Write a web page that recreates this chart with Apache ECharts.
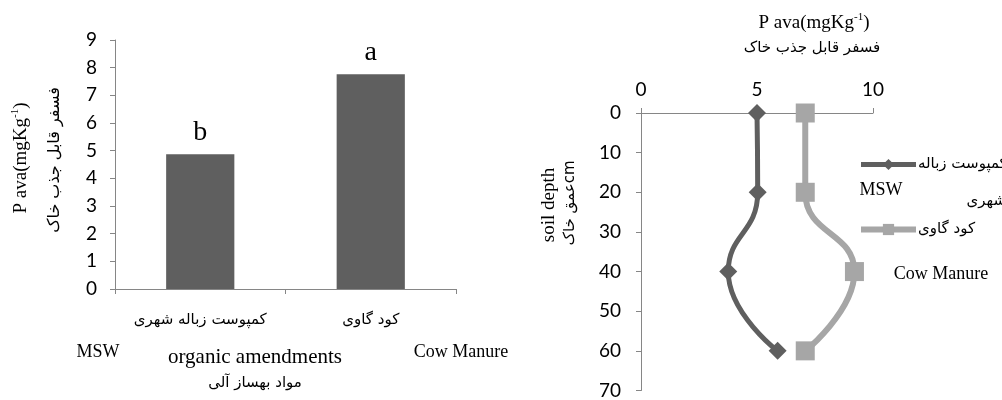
<!DOCTYPE html>
<html><head><meta charset="utf-8">
<script src="https://cdn.jsdelivr.net/npm/echarts@6/dist/echarts.min.js"></script>
<style>html,body{margin:0;padding:0;background:#fff}#c{width:1002px;height:400px}</style>
</head><body><div id="c"></div>
<script>
// ---- data ----
const amendments = ['کمپوست زباله شهری', 'کود گاوی'];
const pAvailable = [4.87, 7.76];
const sigLetters = ['b', 'a'];
const depths = [0, 20, 40, 60];
const mswP = [5.0, 5.03, 3.76, 5.89];
const cowP = [7.08, 7.08, 9.2, 7.08];
const seriesNames = ['کمپوست زباله', 'کود گاوی'];

const AX = '#868686';
const SANS = 'Lato';
const SERIF = 'Liberation Serif';
const FA = 'DejaVu Sans';
const MSW_C = '#5F5F5F';
const COW_C = '#A6A6A6';

const chart = echarts.init(document.getElementById('c'), null, {renderer: 'canvas'});

function txt(x, y, text, font, size, opts) {
  opts = opts || {};
  return {
    type: 'text', x: x, y: y, rotation: opts.rot || 0,
    style: Object.assign({
      text: text, fontFamily: font, fontSize: size, fill: '#000',
      align: opts.align || 'center', verticalAlign: 'middle'
    }, opts.style || {})
  };
}
function supTitle(x, y, size, rot) {
  return {
    type: 'text', x: x, y: y, rotation: rot || 0,
    style: {
      text: '{t|P ava(mgKg}{s|-1}{t|)}',
      align: 'center', verticalAlign: 'middle', fill: '#000',
      rich: {
        t: {fontFamily: SERIF, fontSize: size, lineHeight: size + 2, verticalAlign: 'bottom'},
        s: {fontFamily: SERIF, fontSize: Math.round(size * 0.6), lineHeight: size + 2, verticalAlign: 'top'}
      }
    }
  };
}

const option = {
  animation: false,
  backgroundColor: '#fff',
  grid: [
    {left: 115, top: 40, width: 341, height: 249},
    {left: 641, top: 113, width: 232, height: 281}
  ],
  xAxis: [
    {
      gridIndex: 0, type: 'category', data: amendments,
      axisLine: {show: true, lineStyle: {color: AX, width: 1}},
      axisTick: {show: true, length: 5, alignWithLabel: false, interval: 0, lineStyle: {color: AX}},
      axisLabel: {fontFamily: FA, fontSize: 15, color: '#000', margin: 24, interval: 0},
      splitLine: {show: false}
    },
    {
      gridIndex: 1, type: 'value', position: 'top', min: 0, max: 10, interval: 5,
      axisLine: {show: true, onZero: false, lineStyle: {color: AX, width: 1}},
      axisTick: {show: true, length: 5, lineStyle: {color: AX}},
      axisLabel: {fontFamily: SANS, fontSize: 19, color: '#000', margin: 14},
      splitLine: {show: false}
    }
  ],
  yAxis: [
    {
      gridIndex: 0, type: 'value', min: 0, max: 9, interval: 1,
      axisLine: {show: true, lineStyle: {color: AX, width: 1}},
      axisTick: {show: true, length: 5, lineStyle: {color: AX}},
      axisLabel: {fontFamily: SANS, fontSize: 19, color: '#000', margin: 18},
      splitLine: {show: false}
    },
    {
      gridIndex: 1, type: 'value', inverse: true, min: 0, max: 70, interval: 10,
      axisLine: {show: true, onZero: false, lineStyle: {color: AX, width: 1}},
      axisTick: {show: true, length: 5, lineStyle: {color: AX}},
      axisLabel: {fontFamily: SANS, fontSize: 19, color: '#000', margin: 20},
      splitLine: {show: false}
    }
  ],
  legend: {
    orient: 'vertical', left: 853, top: 152, itemWidth: 55, itemHeight: 14, itemGap: 50,
    data: [
      {name: seriesNames[0], lineStyle: {width: 5, color: MSW_C}},
      {name: seriesNames[1], lineStyle: {width: 6, color: COW_C}}
    ],
    textStyle: {fontFamily: FA, fontSize: 15, color: '#000', padding: [0, 0, 0, -3]}
  },
  series: [
    {
      type: 'bar', xAxisIndex: 0, yAxisIndex: 0, data: pAvailable, barWidth: '40%',
      itemStyle: {color: MSW_C},
      label: {
        show: true, position: 'top', distance: 8,
        formatter: p => sigLetters[p.dataIndex],
        fontFamily: SERIF, fontSize: 28, color: '#000'
      }
    },
    {
      name: seriesNames[0], type: 'line', xAxisIndex: 1, yAxisIndex: 1,
      data: depths.map((d, i) => [mswP[i], d]),
      smooth: 0.5, symbol: 'diamond', symbolSize: 18,
      lineStyle: {color: MSW_C, width: 5},
      itemStyle: {color: MSW_C}
    },
    {
      name: seriesNames[1], type: 'line', xAxisIndex: 1, yAxisIndex: 1,
      data: depths.map((d, i) => [cowP[i], d]),
      smooth: 0.5, symbol: 'rect', symbolSize: 19,
      lineStyle: {color: COW_C, width: 6},
      itemStyle: {color: COW_C}
    }
  ],
  graphic: [
    supTitle(20, 158, 19, Math.PI / 2),
    txt(55, 160, 'فسفر قابل جذب خاک', FA, 16, {rot: Math.PI / 2}),
    txt(98, 352, 'MSW', SERIF, 18),
    txt(255, 357, 'organic amendments', SERIF, 21),
    txt(255, 383, 'مواد بهساز آلی', FA, 15),
    txt(461, 352, 'Cow Manure', SERIF, 18),
    supTitle(814, 22, 19, 0),
    txt(812, 48, 'فسفر قابل جذب خاک', FA, 15),
    txt(549, 205, 'soil depth', SERIF, 19, {rot: Math.PI / 2}),
    txt(570, 203, 'عمق خاکcm', FA, 15, {rot: Math.PI / 2}),
    txt(881, 190, 'MSW', SERIF, 18),
    txt(1006, 201, 'شهری', FA, 15, {align: 'right'}),
    txt(941, 274, 'Cow Manure', SERIF, 18)
  ]
};
chart.setOption(option);
</script>
</body></html>
